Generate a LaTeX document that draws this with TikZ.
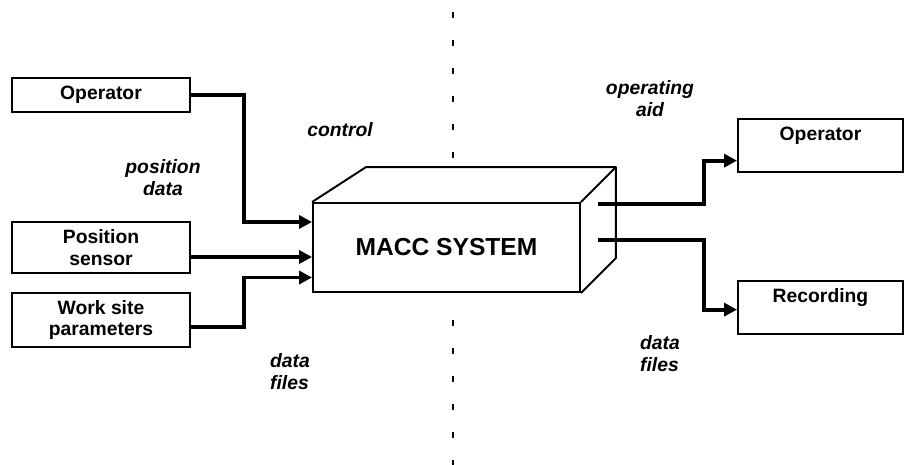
\documentclass[tikz,border=0pt]{standalone}
\usepackage{fontspec}
\setmainfont{Liberation Sans}
\usetikzlibrary{arrows.meta,positioning,calc}

\begin{document}
\begin{tikzpicture}[
    x=0.02cm, y=-0.02cm,
    block/.style={draw, rectangle, line width=1.1pt, fill=white,
                  font=\bfseries\fontsize{11}{12.5}\selectfont,
                  align=center, minimum width=3.56cm, inner sep=2pt},
    outblock/.style={block, minimum width=3.3cm, text height=8pt,
                     text depth=13pt, inner ysep=4.5pt, anchor=north},
    system/.style={draw, rectangle, line width=1.1pt,
                   minimum width=5.34cm, minimum height=1.78cm,
                   font=\bfseries\fontsize{14}{16}\selectfont},
    cube/.style={line width=1.1pt, line join=round},
    tag/.style={font=\bfseries\itshape\fontsize{11}{12.5}\selectfont, align=left},
    flow/.style={-{Triangle[length=0.26cm,width=0.26cm]}, line width=2.2pt},
    divider/.style={line width=1.6pt, dash pattern=on 0.12cm off 0.44cm}
]
\useasboundingbox (0,0) rectangle (905,465);

% Dividing line
\draw[divider] (453,12) -- (453,162);
\draw[divider] (453,320) -- (453,465);

% Inputs
\node[block, minimum height=0.68cm] (opl) at (101,95) {Operator};
\node[block, minimum height=1.02cm] (ps) at (101,247.5) {Position\\sensor};
\node[block, minimum height=1.08cm] (ws) at (101,320) {Work site\\parameters};

% System
\node[system] (sys) at (446.5,247.5) {MACC SYSTEM};
\draw[cube] (sys.north west) -- ++(54,-35) -- ($(sys.north east)+(35,-35)$) coordinate (backne)
  -- ($(sys.south east)+(35,-35)$) -- (sys.south east);
\draw[cube] (sys.north east) -- (backne);

% Outputs
\node[outblock] (opr) at (820.5,118) {Operator};
\node[outblock] (rec) at (820.5,280) {Recording};
\coordinate (out1) at ($(sys.east)+(17,-43.5)$);
\coordinate (out2) at ($(sys.east)+(17,-7.5)$);

\draw[flow] (opl.east) -- ++(53,0) |- ($(sys.west)+(0,-25.5)$);
\draw[flow] ($(ps.east)+(0,9.5)$) -- ($(sys.west)+(0,9.5)$);
\draw[flow] ($(ws.east)+(0,7)$) -- ++(53,0) |- ($(sys.west)+(0,30)$);
\draw[flow] (out1) -- ++(106,0) |- ($(opr.south west)+(0,-12)$);
\draw[flow] (out2) -- ++(106,0) |- ($(rec.south west)+(0,-25)$);

% Labels
\node[tag] (ctl) at (340,130) {control};
\node[tag, align=center] (posd) at (163,178) {position\\data};
\node[tag, align=center] (aid) at (650,99) {operating\\aid};
\node[tag] (filesl) at (290,372) {data\\files};
\node[tag] (filesr) at (660,354) {data\\files};

\end{tikzpicture}
\end{document}
